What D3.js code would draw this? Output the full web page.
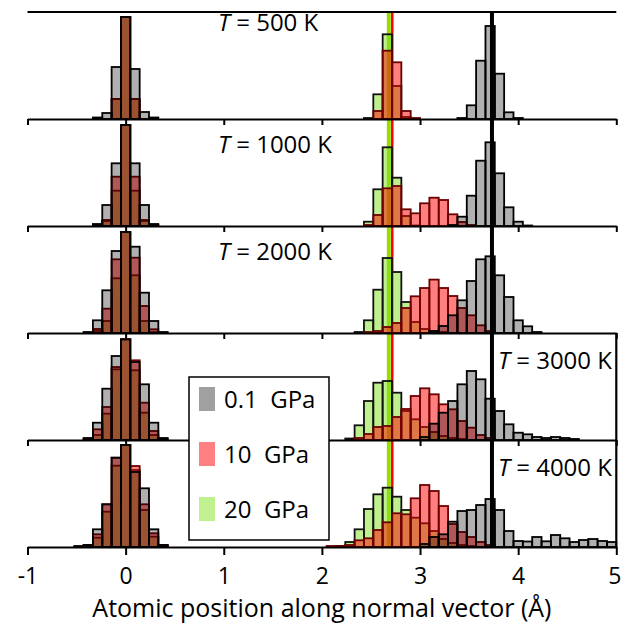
<!DOCTYPE html>
<html>
<head>
<meta charset="utf-8">
<script src="https://cdn.jsdelivr.net/npm/d3@7"></script>
<style>
body { margin: 0; background: #fff; }
svg { display: block; font-family: "Open Sans", sans-serif; }
</style>
</head>
<body>
<svg id="chart" width="622" height="623"></svg>
<script>
// histogram: 63 bins over [-1, 5] Å
const binDomain = [-1, 5];
const binCount = 63;
const leftStart = 5;    // first bin of the cluster around 0 Å
const rightStart = 32;  // first bin of the cluster around 3 Å

const temperatures = ["500", "1000", "2000", "3000", "4000"];
const pressures = ["0.1  GPa", "10  GPa", "20  GPa"];
const xTicks = [-1, 0, 1, 2, 3, 4, 5];
const refLines = [2.682, 2.717, 3.733]; // 20 GPa, 10 GPa, 0.1 GPa

// T = 500 K
const gray500L  = [0, 0, 1.5, 6, 52, 102, 50, 7, 1.5, 0, 0];
const red500L   = [0, 0, 0, 0, 20, 102, 20, 0, 0, 0, 0];
const green500L = [0, 0, 0, 0, 20, 102, 20, 0, 0, 0, 0];
const gray500R  = [0, 0, 0, 0, 0, 0, 0, 0, 0, 0, 0, 0, 0, 0, 1, 13.7, 58.3, 93, 45.3, 6.7, 1, 0, 0, 0, 0, 0, 0, 0, 0, 0, 0];
const red500R   = [0, 0, 0, 0, 0, 8, 68.3, 56.7, 8, 1, 0, 0, 0, 0, 0, 0, 0, 0, 0, 0, 0, 0, 0, 0, 0, 0, 0, 0, 0, 0, 0];
const green500R = [0, 0, 0, 0, 1, 24.7, 84.7, 33, 2, 0, 0, 0, 0, 0, 0, 0, 0, 0, 0, 0, 0, 0, 0, 0, 0, 0, 0, 0, 0, 0, 0];

// T = 1000 K
const gray1000L  = [0, 0, 2, 21, 62.7, 101, 62.7, 21, 2, 0, 0];
const red1000L   = [0, 0, 1, 6, 49.3, 101, 49.3, 6, 1, 0, 0];
const green1000L = [0, 0, 0, 5, 35.3, 101, 35.3, 5, 0, 0, 0];
const gray1000R  = [0, 0, 0, 0, 0, 0, 0, 0, 0, 0, 0, 0, 0, 1, 9.3, 30.3, 65.3, 83.7, 52.7, 18.7, 4.3, 0.5, 0, 0, 0, 0, 0, 0, 0, 0, 0];
const red1000R   = [0, 0, 0, 0, 1, 11, 37.7, 40, 16.7, 12.7, 22.7, 28.3, 26, 11.7, 4, 1, 0, 0, 0, 0, 0, 0, 0, 0, 0, 0, 0, 0, 0, 0, 0];
const green1000R = [0, 0, 0, 0, 4.3, 36.7, 78.7, 48.3, 10, 0.5, 0, 0, 0, 0, 0, 0, 0, 0, 0, 0, 0, 0, 0, 0, 0, 0, 0, 0, 0, 0, 0];

// T = 2000 K
const gray2000L  = [0, 1, 12.7, 42.7, 82, 101, 86.3, 40.3, 12, 1, 0];
const red2000L   = [0, 0, 4, 24.3, 73.7, 101, 75.3, 27, 3.7, 0, 0];
const green2000L = [0, 0, 2, 12, 54.7, 101, 57.7, 12, 1, 0, 0];
const gray2000R  = [0, 0, 0, 0, 0, 0, 0, 0, 0, 0, 0, 2, 7, 17.7, 32.7, 52, 73.7, 76.7, 57.7, 36, 12.7, 6.7, 1, 0, 0, 0, 0, 0, 0, 0, 0];
const red2000R   = [0, 0, 0, 0, 1, 2, 6, 10, 25, 36.7, 45, 53.4, 45, 37, 25, 17.7, 7.7, 2, 0, 0, 0, 0, 0, 0, 0, 0, 0, 0, 0, 0, 0];
const green2000R = [0, 0, 0, 1, 12.7, 43.3, 75, 61, 31, 11, 4, 2, 1, 0, 0, 0, 0, 0, 0, 0, 0, 0, 0, 0, 0, 0, 0, 0, 0, 0, 0];

// T = 3000 K
const gray3000L  = [0, 2, 17.3, 51.3, 84, 100.7, 78, 55.7, 17.3, 2, 0];
const red3000L   = [0, 1, 10.7, 33, 73, 100.7, 79.7, 37.3, 9, 1, 0];
const green3000L = [0, 0, 5, 26.3, 70.7, 100.7, 69.7, 27.3, 5, 0, 0];
const gray3000R  = [0, 0, 0, 0, 0, 0, 0, 0, 0, 0, 3, 16.3, 27.3, 39, 55.7, 69, 60.7, 41.3, 29, 15.7, 7.3, 5.7, 3, 2, 3, 2, 1, 0, 0, 0, 0];
const red3000R   = [0, 0, 0, 2, 6, 13, 14, 23, 31, 44, 51.7, 45.7, 35.7, 30.7, 19, 12.3, 5, 2, 0, 0, 0, 0, 0, 0, 0, 0, 0, 0, 0, 0, 0];
const green3000R = [0, 0, 1.5, 14.7, 39, 57.3, 59, 47.3, 29, 20.7, 13, 8, 4, 2, 1, 0, 0, 0, 0, 0, 0, 0, 0, 0, 0, 0, 0, 0, 0, 0, 0];

// T = 4000 K
const gray4000L  = [1, 2, 17.7, 42.7, 89.3, 102, 75, 58.7, 17.7, 2, 0];
const red4000L   = [0, 2, 12.7, 42.7, 89.3, 102, 81, 42.7, 13.7, 2, 0];
const green4000L = [0, 1, 9.3, 35.3, 81.3, 102, 77, 37, 10.3, 1, 0];
const gray4000R  = [0, 0, 0, 0, 0, 0, 0, 0, 0, 0, 3, 10, 12.7, 25.3, 36, 37, 42, 48, 37, 16, 6, 5.5, 10, 5.7, 12, 8.7, 5, 7, 8, 6, 5];
const red4000R   = [1, 1, 2, 6.7, 8.7, 17, 24.7, 33.7, 32.7, 48.7, 62, 56, 41, 23, 15, 10, 5, 2, 0, 0, 0, 0, 0, 0, 0, 0, 0, 0, 0, 0, 0];
const green4000R = [0, 1, 5, 17.7, 38, 52.7, 59.3, 50.3, 37, 29.3, 23.7, 16, 8, 4, 2, 1, 0, 0, 0, 0, 0, 0, 0, 0, 0, 0, 0, 0, 0, 0, 0];

const panels = [
    {t: temperatures[0], gray: [gray500L, gray500R],   red: [red500L, red500R],   green: [green500L, green500R]},
    {t: temperatures[1], gray: [gray1000L, gray1000R], red: [red1000L, red1000R], green: [green1000L, green1000R]},
    {t: temperatures[2], gray: [gray2000L, gray2000R], red: [red2000L, red2000R], green: [green2000L, green2000R]},
    {t: temperatures[3], gray: [gray3000L, gray3000R], red: [red3000L, red3000R], green: [green3000L, green3000R]},
    {t: temperatures[4], gray: [gray4000L, gray4000R], red: [red4000L, red4000R], green: [green4000L, green4000R]}
];

const svg = d3.select("#chart");
const plotTop = 12, plotBottom = 547, plotLeft = 27.5, plotRight = 616.3;
const panelH = (plotBottom - plotTop) / panels.length;

const x = d3.scaleLinear().domain(binDomain).range([plotLeft, plotRight]);
const binW = (binDomain[1] - binDomain[0]) / binCount;
const binLo = k => binDomain[0] + k * binW;

// fill, opacity, outline per series (drawn green, red, gray)
// the gray layer darkens what is under it, like a multiply
const styles = {
    green: {fill: "#80e020", stroke: "#111", op: 0.5},
    red:   {fill: "#ff0000", stroke: "#6a0000", op: 0.5},
    gray:  {fill: "#000", stroke: "#000", op: 0.31}
};

// label baseline offset below each panel top
const labelDy = [19, 34, 34, 36, 36];

function toBins(pair) {
    let out = [];
    pair[0].forEach((v, i) => out.push({k: leftStart + i, v: v}));
    pair[1].forEach((v, i) => out.push({k: rightStart + i, v: v}));
    return out.filter(d => d.v > 0 && d.k < binCount);
}

// reference lines behind the bars
svg.append("line")
    .attr("x1", x(refLines[0])).attr("x2", x(refLines[0]))
    .attr("y1", plotTop).attr("y2", plotBottom)
    .attr("stroke", "#99dd00").attr("stroke-width", 4);
svg.append("line")
    .attr("x1", x(refLines[1])).attr("x2", x(refLines[1]))
    .attr("y1", plotTop).attr("y2", plotBottom)
    .attr("stroke", "#ff0000").attr("stroke-width", 2.5);

panels.forEach((p, i) => {
    const y0 = plotTop + i * panelH, y1 = y0 + panelH;
    const y = d3.scaleLinear().domain([0, 107]).range([y1, y0]);
    const g = svg.append("g");

    ["green", "red", "gray"].forEach(s => {
        g.append("g")
            .selectAll("rect")
            .data(toBins(p[s]))
            .join("rect")
            .attr("x", d => x(binLo(d.k)))
            .attr("width", d => x(binLo(d.k + 1)) - x(binLo(d.k)))
            .attr("y", d => y(d.v))
            .attr("height", d => y(0) - y(d.v))
            .attr("fill", styles[s].fill)
            .attr("fill-opacity", styles[s].op)
            .attr("stroke", styles[s].stroke)
            .attr("stroke-width", 1.8);
    });

    // bottom edge of each panel, ticks pointing down
    const last = i === panels.length - 1;
    const axis = d3.axisBottom(x).tickValues(xTicks).tickSize(last ? 8 : 6).tickSizeOuter(0)
        .tickFormat(last ? (d => d) : "");
    const ax = svg.append("g").attr("transform", `translate(0,${y1})`).call(axis);
    ax.select(".domain").attr("stroke", "#000").attr("stroke-width", 2.2);
    ax.selectAll(".tick line").attr("stroke", "#000").attr("stroke-width", 2);
    ax.selectAll(".tick text")
        .attr("font-size", 23)
        .attr("font-family", "Open Sans")
        .attr("fill", "#000")
        .attr("y", 37)
        .attr("dy", 0)
        .attr("dx", d => d === 5 ? -2 : 0);

    // temperature label
    const lbl = svg.append("text")
        .attr("font-size", 24)
        .attr("fill", "#000")
        .attr("y", y0 + labelDy[i]);
    if (i < 3) lbl.attr("x", 218);
    else lbl.attr("x", 612).attr("text-anchor", "end");
    lbl.append("tspan").attr("font-style", "italic").text("T");
    lbl.append("tspan").text(" = " + p.t + " K");
});

// top frame line and right border
svg.append("line").attr("x1", plotLeft).attr("x2", plotRight).attr("y1", plotTop).attr("y2", plotTop)
    .attr("stroke", "#000").attr("stroke-width", 2.2);
svg.append("line").attr("x1", plotRight).attr("x2", plotRight).attr("y1", plotTop + panelH * 3).attr("y2", plotBottom)
    .attr("stroke", "#000").attr("stroke-width", 2.2);

// 0.1 GPa reference on top
svg.append("line")
    .attr("x1", x(refLines[2])).attr("x2", x(refLines[2]))
    .attr("y1", plotTop).attr("y2", plotBottom)
    .attr("stroke", "#000").attr("stroke-width", 4);

// legend
const leg = svg.append("g");
leg.append("rect").attr("x", 189).attr("y", 377).attr("width", 140).attr("height", 163)
    .attr("fill", "#fff").attr("stroke", "#000").attr("stroke-width", 1.5);
const swatch = ["#a0a0a0", "#ff8080", "#c0f090"];
pressures.forEach((name, i) => {
    const yy = 387 + i * 55;
    leg.append("rect").attr("x", 199).attr("y", yy).attr("width", 16).attr("height", 24).attr("fill", swatch[i]);
    leg.append("text").attr("x", 224).attr("y", yy + 21).attr("font-size", 24)
        .style("white-space", "pre").text(name);
});

svg.append("text")
    .attr("x", (plotLeft + plotRight) / 2).attr("y", 617)
    .attr("text-anchor", "middle").attr("font-size", 25)
    .text("Atomic position along normal vector (Å)");
</script>
</body>
</html>
